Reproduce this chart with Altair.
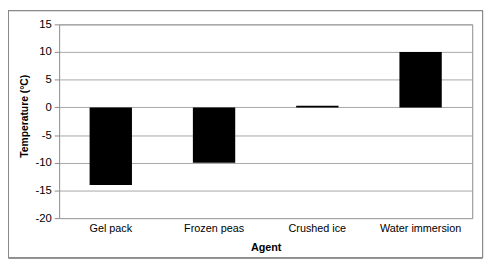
import altair as alt
import pandas as pd

agents = ["Gel pack", "Frozen peas", "Crushed ice", "Water immersion"]
temps = [-14, -10, 0.3, 10]
y_ticks = [-20, -15, -10, -5, 0, 5, 10, 15]

df = pd.DataFrame({"Agent": agents, "Temperature": temps})

W, H = 420, 197

bars = alt.Chart(df).mark_bar(color="black").encode(
    x=alt.X(
        "Agent:N",
        sort=agents,
        scale=alt.Scale(paddingInner=0.59, paddingOuter=0.295),
        axis=alt.Axis(
            title="Agent",
            labelAngle=0,
            ticks=False,
            domain=False,
            labelPadding=5,
            titlePadding=8,
            labelFontSize=11,
            titleFontSize=11,
            titleFontWeight="bold",
        ),
    ),
    y=alt.Y(
        "Temperature:Q",
        scale=alt.Scale(domain=[-20, 15], nice=False, zero=False),
        axis=alt.Axis(
            title="Temperature (°C)",
            values=y_ticks,
            labelExpr="'' + datum.value",
            tickSize=5,
            labelPadding=3,
            domain=False,
            titlePadding=6,
            titleY=93,
            labelFontSize=11.5,
            titleFontSize=10.5,
            titleFontWeight="bold",
        ),
    ),
)

border = alt.Chart(df).mark_rect(fill="transparent", stroke="#8a8a8a", strokeWidth=1).encode(
    x=alt.value(-51.5), x2=alt.value(430.5), y=alt.value(-14), y2=alt.value(237.5)
)

chart = (
    alt.layer(bars, border)
    .properties(
        width=W,
        height=H,
        autosize="none",
        padding={"left": 52, "top": 14.5, "right": 14, "bottom": 42},
    )
    .configure_view(stroke="#8a8a8a", strokeWidth=1)
    .configure_axis(
        grid=True,
        gridColor="#a6a6a6",
        tickColor="#8a8a8a",
        labelColor="black",
        titleColor="black",
        labelFont="Liberation Sans",
        titleFont="Liberation Sans",
    )
    .configure_axisX(grid=False)
)

chart.save("out.html", embed_options={"renderer": "svg", "actions": False})
